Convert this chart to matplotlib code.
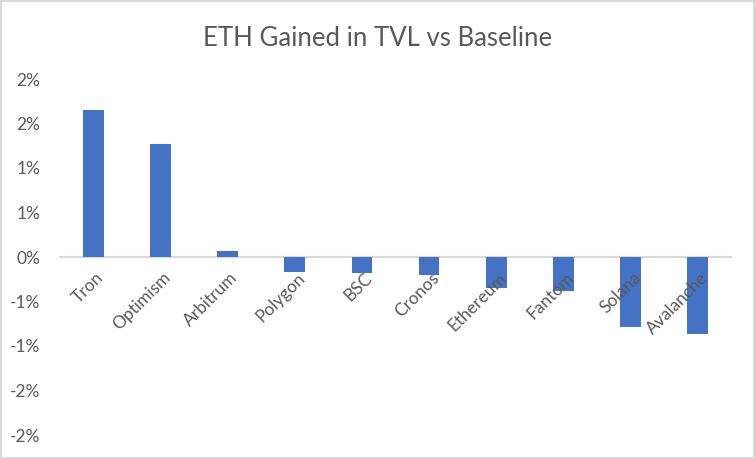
import numpy as np
import matplotlib
matplotlib.use("Agg")
from matplotlib import pyplot as plt
import matplotlib.transforms as mtransforms

chains = ["Tron", "Optimism", "Arbitrum", "Polygon", "BSC", "Cronos",
          "Ethereum", "Fantom", "Solana", "Avalanche"]
eth_gain = [1.65, 1.27, 0.065, -0.17, -0.18, -0.20, -0.35, -0.38, -0.79, -0.87]
ytick_vals = [-2.0, -1.5, -1.0, -0.5, 0.0, 0.5, 1.0, 1.5, 2.0]
ytick_labels = ["-2%", "-2%", "-1%", "-1%", "0%", "1%", "1%", "2%", "2%"]

plt.rcParams['font.family'] = ['Lato', 'DejaVu Sans']
grey = '#595959'

fig = plt.figure(figsize=(7.55, 4.59), dpi=100)
fig.patch.set_edgecolor('#D9D9D9')
fig.patch.set_linewidth(1.5)
ax = fig.add_axes([60 / 755, 1 - 435 / 459, 671 / 755, 356 / 459])

x = np.arange(len(chains))
ax.bar(x, eth_gain, width=0.31, color='#4472C4', zorder=2)

ax.set_xlim(-0.5, len(chains) - 0.5)
ax.set_ylim(-2.0, 2.0)
ax.set_yticks(ytick_vals)
ax.set_yticklabels(ytick_labels, color=grey, fontsize=12.5)

for s in ['top', 'right', 'left']:
  ax.spines[s].set_visible(False)
ax.spines['bottom'].set_position(('data', 0))
ax.spines['bottom'].set_color('#D9D9D9')
ax.spines['bottom'].set_linewidth(1.5)
ax.spines['bottom'].set_zorder(1)
ax.tick_params(axis='both', length=0)
ax.tick_params(axis='y', pad=14)

ax.set_xticks(x)
ax.set_xticklabels(chains, rotation=45, ha='right', va='top',
                   rotation_mode='anchor', color=grey, fontsize=12.5)
ax.tick_params(axis='x', pad=9)
shift = mtransforms.ScaledTranslation(2 / 100, 0, fig.dpi_scale_trans)
for lbl in ax.get_xticklabels():
  lbl.set_transform(lbl.get_transform() + shift)
  lbl.set_zorder(5)
ax.xaxis.set_zorder(5)

fig.text(0.5, 1 - 38 / 459, "ETH Gained in TVL vs Baseline", ha='center',
         va='center', fontsize=18.5, color=grey)

fig.savefig("out.png", dpi=100)
